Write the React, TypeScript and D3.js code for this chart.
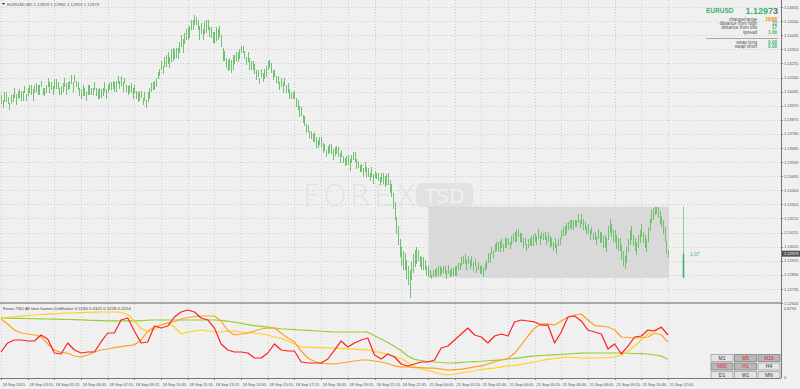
import React from 'react';
import * as d3 from 'd3';

// ---- price bars (EURUSD M5), highs / lows ----
const barHighs = [
1.1404,1.1401,1.1406,1.1406,1.1403,1.1399,1.1404,1.1405,1.1409,1.1405,
1.1407,1.1408,1.1407,1.1407,1.1410,1.1405,1.1409,1.1411,1.1411,1.1408,
1.1411,1.1412,1.1411,1.1411,1.1414,1.1409,1.1409,1.1411,1.1416,1.1413,
1.1413,1.1410,1.1415,1.1415,1.1413,1.1409,1.1410,1.1412,1.1416,1.1412,
1.1413,1.1414,1.1418,1.1413,1.1418,1.1414,1.1413,1.1409,1.1408,1.1411,
1.1409,1.1406,1.1411,1.1411,1.1409,1.1409,1.1413,1.1409,1.1408,1.1409,
1.1408,1.1409,1.1413,1.1408,1.1411,1.1412,1.1413,1.1414,1.1413,1.1414,
1.1417,1.1414,1.1417,1.1413,1.1416,1.1411,1.1410,1.1411,1.1412,1.1409,
1.1411,1.1407,1.1406,1.1407,1.1407,1.1402,1.1406,1.1401,1.1406,1.1409,
1.1412,1.1413,1.1414,1.1416,1.1420,1.1422,1.1427,1.1424,1.1430,1.1431,
1.1433,1.1430,1.1435,1.1436,1.1435,1.1436,1.1436,1.1440,1.1445,1.1442,
1.1446,1.1449,1.1450,1.1451,1.1455,1.1455,1.1458,1.1457,1.1455,1.1451,
1.1453,1.1449,1.1454,1.1455,1.1455,1.1450,1.1450,1.1447,1.1447,1.1450,
1.1449,1.1451,1.1445,1.1436,1.1434,1.1429,1.1428,1.1429,1.1428,1.1431,
1.1431,1.1433,1.1433,1.1435,1.1437,1.1437,1.1434,1.1430,1.1433,1.1429,
1.1427,1.1427,1.1425,1.1421,1.1421,1.1416,1.1422,1.1419,1.1422,1.1424,
1.1427,1.1428,1.1426,1.1421,1.1421,1.1417,1.1417,1.1413,1.1416,1.1413,
1.1416,1.1411,1.1412,1.1408,1.1406,1.1406,1.1407,1.1402,1.1401,1.1397,
1.1396,1.1391,1.1390,1.1385,1.1384,1.1380,1.1380,1.1378,1.1379,1.1376,
1.1374,1.1376,1.1376,1.1372,1.1371,1.1367,1.1370,1.1371,1.1371,1.1368,
1.1369,1.1370,1.1369,1.1365,1.1367,1.1363,1.1362,1.1363,1.1364,1.1361,
1.1364,1.1366,1.1366,1.1361,1.1360,1.1357,1.1358,1.1355,1.1359,1.1356,
1.1355,1.1352,1.1356,1.1351,1.1353,1.1352,1.1352,1.1349,1.1352,1.1352,
1.1350,1.1351,1.1352,1.1347,1.1344,1.1338,1.1332,1.1322,1.1316,1.1307,
1.1302,1.1299,1.1298,1.1293,1.1289,1.1286,1.1292,1.1297,1.1300,1.1302,
1.1300,1.1296,1.1295,1.1295,1.1293,1.1289,1.1289,1.1286,1.1283,1.1286,
1.1287,1.1288,1.1289,1.1289,1.1288,1.1289,1.1289,1.1286,1.1290,1.1286,
1.1288,1.1288,1.1289,1.1289,1.1291,1.1291,1.1295,1.1296,1.1297,1.1294,
1.1296,1.1293,1.1296,1.1292,1.1294,1.1289,1.1292,1.1289,1.1290,1.1288,
1.1291,1.1293,1.1298,1.1298,1.1302,1.1299,1.1304,1.1305,1.1305,1.1306,
1.1307,1.1304,1.1308,1.1308,1.1308,1.1305,1.1309,1.1311,1.1312,1.1313,
1.1314,1.1311,1.1311,1.1308,1.1308,1.1304,1.1307,1.1308,1.1309,1.1310,
1.1311,1.1309,1.1314,1.1310,1.1312,1.1311,1.1312,1.1309,1.1312,1.1309,
1.1308,1.1305,1.1308,1.1304,1.1307,1.1308,1.1313,1.1315,1.1316,1.1318,
1.1319,1.1320,1.1320,1.1320,1.1320,1.1320,1.1324,1.1320,1.1324,1.1321,
1.1319,1.1316,1.1317,1.1313,1.1315,1.1311,1.1312,1.1309,1.1314,1.1312,
1.1312,1.1309,1.1310,1.1308,1.1316,1.1321,1.1317,1.1313,1.1313,1.1310,
1.1308,1.1308,1.1303,1.1299,1.1296,1.1302,1.1307,1.1313,1.1316,1.1310,
1.1308,1.1305,1.1310,1.1313,1.1317,1.1312,1.1310,1.1307,1.1315,1.1321,
1.1327,1.1328,1.1329,1.1329,1.1329,1.1326,1.1323,1.1320,1.1315,1.1306,
1.1300
];
const barLows = [
1.1399,1.1396,1.1400,1.1400,1.1399,1.1395,1.1399,1.1400,1.1403,1.1398,
1.1402,1.1403,1.1401,1.1401,1.1406,1.1401,1.1404,1.1406,1.1405,1.1401,
1.1406,1.1407,1.1405,1.1405,1.1410,1.1405,1.1404,1.1406,1.1410,1.1406,
1.1408,1.1405,1.1409,1.1409,1.1409,1.1405,1.1405,1.1407,1.1410,1.1405,
1.1408,1.1409,1.1412,1.1407,1.1414,1.1410,1.1408,1.1404,1.1402,1.1404,
1.1404,1.1401,1.1405,1.1405,1.1405,1.1405,1.1408,1.1404,1.1402,1.1402,
1.1403,1.1404,1.1407,1.1402,1.1407,1.1408,1.1408,1.1409,1.1407,1.1407,
1.1412,1.1409,1.1411,1.1407,1.1412,1.1407,1.1405,1.1406,1.1406,1.1402,
1.1406,1.1402,1.1400,1.1401,1.1403,1.1398,1.1401,1.1396,1.1400,1.1402,
1.1407,1.1408,1.1408,1.1410,1.1416,1.1418,1.1422,1.1419,1.1424,1.1424,
1.1426,1.1423,1.1427,1.1428,1.1429,1.1430,1.1429,1.1433,1.1437,1.1433,
1.1439,1.1442,1.1442,1.1443,1.1449,1.1449,1.1452,1.1452,1.1449,1.1442,
1.1446,1.1442,1.1446,1.1447,1.1449,1.1444,1.1443,1.1440,1.1439,1.1441,
1.1442,1.1444,1.1437,1.1428,1.1428,1.1423,1.1421,1.1422,1.1420,1.1422,
1.1426,1.1428,1.1427,1.1429,1.1433,1.1433,1.1429,1.1425,1.1427,1.1422,
1.1422,1.1422,1.1419,1.1415,1.1417,1.1412,1.1417,1.1414,1.1416,1.1417,
1.1422,1.1423,1.1420,1.1415,1.1417,1.1413,1.1412,1.1408,1.1410,1.1406,
1.1411,1.1406,1.1406,1.1402,1.1402,1.1402,1.1402,1.1397,1.1395,1.1390,
1.1391,1.1386,1.1384,1.1379,1.1380,1.1376,1.1375,1.1373,1.1373,1.1369,
1.1369,1.1371,1.1370,1.1366,1.1367,1.1363,1.1365,1.1366,1.1365,1.1361,
1.1364,1.1365,1.1363,1.1359,1.1363,1.1359,1.1357,1.1358,1.1358,1.1354,
1.1359,1.1361,1.1360,1.1355,1.1356,1.1353,1.1353,1.1350,1.1353,1.1349,
1.1350,1.1347,1.1350,1.1345,1.1349,1.1348,1.1347,1.1344,1.1346,1.1345,
1.1343,1.1344,1.1344,1.1339,1.1336,1.1328,1.1321,1.1311,1.1304,1.1296,
1.1290,1.1287,1.1287,1.1281,1.1277,1.1268,1.1280,1.1285,1.1289,1.1291,
1.1293,1.1289,1.1287,1.1287,1.1287,1.1283,1.1282,1.1282,1.1281,1.1282,
1.1282,1.1283,1.1283,1.1283,1.1284,1.1285,1.1284,1.1281,1.1284,1.1282,
1.1283,1.1283,1.1283,1.1283,1.1287,1.1287,1.1290,1.1291,1.1291,1.1287,
1.1291,1.1288,1.1290,1.1286,1.1290,1.1285,1.1287,1.1284,1.1284,1.1282,
1.1286,1.1288,1.1292,1.1292,1.1298,1.1295,1.1299,1.1300,1.1299,1.1299,
1.1302,1.1299,1.1302,1.1302,1.1304,1.1301,1.1304,1.1306,1.1306,1.1306,
1.1309,1.1306,1.1305,1.1302,1.1304,1.1300,1.1302,1.1303,1.1303,1.1303,
1.1306,1.1304,1.1308,1.1304,1.1308,1.1307,1.1307,1.1304,1.1306,1.1302,
1.1303,1.1300,1.1302,1.1298,1.1303,1.1304,1.1308,1.1310,1.1310,1.1311,
1.1314,1.1315,1.1314,1.1314,1.1316,1.1316,1.1319,1.1315,1.1318,1.1314,
1.1314,1.1311,1.1311,1.1307,1.1311,1.1307,1.1307,1.1304,1.1308,1.1305,
1.1305,1.1302,1.1302,1.1299,1.1307,1.1312,1.1309,1.1306,1.1305,1.1301,
1.1300,1.1300,1.1294,1.1290,1.1288,1.1292,1.1299,1.1304,1.1307,1.1303,
1.1300,1.1297,1.1302,1.1305,1.1309,1.1305,1.1302,1.1299,1.1306,1.1313,
1.1319,1.1321,1.1324,1.1325,1.1322,1.1318,1.1316,1.1311,1.1306,1.1298,
1.1295
];
const lastClose = 1.12973;
const rangeStartBar = 256; // 21 Sep 00:00

const timeLabels = [
  '18 Sep 2015','18 Sep 03:55','18 Sep 05:15','18 Sep 06:35','18 Sep 07:55','18 Sep 09:15',
  '18 Sep 10:35','18 Sep 11:55','18 Sep 13:15','18 Sep 14:35','18 Sep 15:55','18 Sep 17:15',
  '18 Sep 18:35','18 Sep 19:55','18 Sep 21:15','18 Sep 22:35','21 Sep 00:00','21 Sep 01:20',
  '21 Sep 02:40','21 Sep 04:00','21 Sep 05:20','21 Sep 06:40','21 Sep 08:00','21 Sep 09:20',
  '21 Sep 10:40','21 Sep 12:00'
];
const priceTicks = [
  1.14635,1.14540,1.14445,1.14350,1.14255,1.14160,1.14065,1.13970,1.13875,1.13780,1.13685,
  1.13590,1.13495,1.13400,1.13305,1.13210,1.13115,1.13020,1.12925,1.12830,1.12735,1.12640
];

// ---- DeMarker lines, one value every 4 bars ----
const demRed = [
0.313,0.422,0.458,0.458,0.446,0.446,0.518,0.470,0.301,0.289,
0.422,0.337,0.301,0.313,0.313,0.434,0.542,0.542,0.699,0.723,
0.566,0.422,0.434,0.626,0.602,0.626,0.735,0.795,0.819,0.795,
0.723,0.699,0.602,0.410,0.337,0.313,0.313,0.301,0.241,0.241,
0.301,0.410,0.337,0.325,0.325,0.193,0.181,0.181,0.181,0.229,
0.337,0.446,0.373,0.422,0.458,0.482,0.277,0.229,0.289,0.253,
0.169,0.145,0.169,0.193,0.193,0.217,0.361,0.385,0.458,0.530,
0.602,0.518,0.494,0.422,0.506,0.530,0.506,0.675,0.699,0.687,
0.675,0.638,0.638,0.422,0.554,0.735,0.747,0.687,0.578,0.554,
0.530,0.349,0.410,0.289,0.385,0.494,0.506,0.578,0.566,0.614,
0.5180];
const demOrange = [
0.711,0.651,0.578,0.542,0.530,0.518,0.499,0.410,0.337,0.308,
0.298,0.265,0.253,0.277,0.313,0.337,0.349,0.367,0.379,0.389,
0.398,0.458,0.566,0.614,0.638,0.663,0.681,0.711,0.729,0.738,
0.747,0.747,0.747,0.687,0.572,0.518,0.530,0.542,0.566,0.590,
0.602,0.602,0.542,0.482,0.434,0.325,0.241,0.199,0.177,0.172,
0.169,0.181,0.193,0.205,0.217,0.217,0.205,0.193,0.175,0.145,
0.133,0.133,0.126,0.126,0.120,0.120,0.108,0.096,0.102,0.108,
0.120,0.133,0.145,0.169,0.193,0.217,0.235,0.301,0.398,0.506,
0.602,0.651,0.651,0.638,0.687,0.735,0.759,0.771,0.699,0.632,
0.626,0.614,0.578,0.494,0.488,0.482,0.488,0.494,0.542,0.518,
0.4325];
const demYellow = [
0.723,0.730,0.738,0.746,0.753,0.759,0.765,0.769,0.773,0.778,
0.783,0.785,0.788,0.790,0.793,0.795,0.795,0.795,0.791,0.765,
0.687,0.602,0.554,0.590,0.638,0.663,0.614,0.530,0.554,0.566,
0.578,0.566,0.554,0.554,0.566,0.566,0.554,0.548,0.542,0.530,
0.518,0.494,0.476,0.446,0.410,0.373,0.371,0.367,0.366,0.364,
0.361,0.357,0.352,0.347,0.342,0.337,0.319,0.306,0.286,0.259,
0.235,0.187,0.139,0.108,0.088,0.069,0.048,0.036,0.048,0.060,
0.072,0.084,0.102,0.114,0.120,0.133,0.145,0.153,0.165,0.181,
0.193,0.211,0.225,0.235,0.245,0.253,0.247,0.241,0.241,0.241,
0.241,0.247,0.253,0.277,0.319,0.385,0.458,0.530,0.584,0.602,
0.5228];
const demGreen = [
0.723,0.722,0.719,0.718,0.717,0.714,0.713,0.711,0.710,0.707,
0.705,0.703,0.700,0.696,0.694,0.691,0.689,0.687,0.687,0.687,
0.687,0.691,0.696,0.699,0.699,0.699,0.699,0.699,0.699,0.699,
0.699,0.699,0.699,0.694,0.684,0.672,0.657,0.642,0.632,0.623,
0.614,0.602,0.593,0.587,0.582,0.578,0.573,0.569,0.563,0.558,
0.554,0.554,0.554,0.554,0.554,0.552,0.508,0.470,0.428,0.379,
0.328,0.265,0.224,0.211,0.199,0.193,0.187,0.181,0.183,0.188,
0.193,0.198,0.202,0.208,0.213,0.218,0.229,0.237,0.246,0.257,
0.267,0.271,0.276,0.281,0.284,0.289,0.295,0.300,0.301,0.301,
0.301,0.301,0.301,0.301,0.298,0.295,0.293,0.289,0.277,0.263,
0.2254];
const demStep = 4;
const demMax = 0.8794;

const panelRows = [
  { label: 'change/range', value: '16/68', color: '#f08a00' },
  { label: 'distance from high', value: '32', color: '#3cb371' },
  { label: 'distance from low', value: '17', color: '#3cb371' },
  { label: 'spread', value: '1.60', color: '#3cb371' },
];
const swapRows = [
  { label: 'swap long', value: '0.00' },
  { label: 'swap short', value: '0.00' },
];
const tfButtons = [
  ['M1', 'M5', 'M15'],
  ['M30', 'H1', 'H4'],
  ['D1', 'W1', 'MN'],
];
const tfActive = ['M5', 'M15', 'M30', 'H1'];

const FONT = 'Liberation Sans, Arial, sans-serif';

export default function App() {
  const W = 800, H = 389;
  const axisX = 781;
  const mainTop = 0, mainBottom = 302;
  const subTop = 304, subBottom = 378;
  const n = barHighs.length;
  const x = d3.scaleLinear().domain([0, n - 1]).range([1, 668]);
  const y = d3.scaleLinear().domain([1.12640, 1.14635]).range([303.1, 7]);
  const ys = d3.scaleLinear().domain([0, demMax]).range([subBottom, subTop + 1]);

  const barPath = barHighs
    .map((h, i) => {
      const xx = Math.round(x(i)) + 0.5;
      return `M${xx},${y(h).toFixed(1)}V${(y(barLows[i]) + 1).toFixed(1)}`;
    })
    .join('');

  const boxHigh = d3.max(barHighs.slice(rangeStartBar)) as number;
  const boxLow = d3.min(barLows.slice(rangeStartBar)) as number;

  const line = d3
    .line<number>()
    .x((_, j) => x(j * demStep))
    .y((v) => ys(v));

  const vGrid = timeLabels.map((_, k) => Math.round(x(k * 16)) + 0.5);

  return (
    <svg
      width={W}
      height={H}
      style={{ position: 'absolute', left: 0, top: 0, display: 'block' }}
      fontFamily={FONT}
    >
      <rect x={0} y={0} width={W} height={H} fill="#f0f0f0" />
      <defs>
        <clipPath id="mainClip">
          <rect x={0} y={mainTop} width={axisX} height={mainBottom - mainTop} />
        </clipPath>
        <clipPath id="subClip">
          <rect x={0} y={subTop} width={axisX} height={subBottom - subTop} />
        </clipPath>
      </defs>

      {/* grid main */}
      <g stroke="#cdcdcd" strokeWidth={1} strokeDasharray="1,2" shapeRendering="crispEdges">
        {vGrid.map((gx, k) => (
          <line key={'v' + k} x1={gx} x2={gx} y1={mainTop} y2={mainBottom} />
        ))}
        {priceTicks.map((p, k) => (
          <line key={'h' + k} x1={0} x2={axisX} y1={Math.round(y(p)) + 0.5} y2={Math.round(y(p)) + 0.5} />
        ))}
        {vGrid.map((gx, k) => (
          <line key={'vs' + k} x1={gx} x2={gx} y1={subTop} y2={subBottom} />
        ))}
      </g>

      {/* watermark */}
      <g>
        <text x={303} y={206} fontSize={30} fontWeight={200} fontFamily="DejaVu Sans, sans-serif" letterSpacing={3} fill="#e2e2e2">
          FOREX
        </text>
        <rect x={416} y={183} width={57} height={24} rx={6} fill="#e2e2e2" />
        <text x={444.5} y={203} fontSize={20} textAnchor="middle" fill="#f0f0f0" fontFamily="DejaVu Sans, sans-serif">
          TSD
        </text>
      </g>

      {/* today range box */}
      <rect
        x={x(rangeStartBar) + 1}
        y={y(boxHigh)}
        width={x(n - 1) + 1 - (x(rangeStartBar) + 1)}
        height={y(boxLow) - y(boxHigh)}
        fill="#d9d9d9"
      />

      {/* bars */}
      <g clipPath="url(#mainClip)">
        <path d={barPath} stroke="#70c270" strokeWidth={1} fill="none" shapeRendering="crispEdges" />
      </g>

      {/* range line + label */}
      <line x1={683.5} x2={683.5} y1={y(boxHigh)} y2={y(lastClose)} stroke="#8fd08f" strokeWidth={1} />
      <line x1={683.5} x2={683.5} y1={y(lastClose)} y2={y(boxLow)} stroke="#3cb371" strokeWidth={1.6} />
      <text x={690} y={y(lastClose) + 2} fontSize={5} fill="#3cb371">1:07</text>

      {/* header */}
      <path d="M2,3 L5,3 L3.5,5 Z" fill="#333" />
      <text x={7} y={5.5} fontSize={4.3} fill="#555">EURUSD,M5  1.12959 1.12982 1.12953 1.12973</text>

      {/* info panel */}
      <text x={706} y={13} fontSize={6.5} fontWeight="bold" fill="#3cb371">EURUSD</text>
      <text x={778} y={14} fontSize={9} fontWeight="bold" textAnchor="end" fill="#3cb371">
        1.1297<tspan fill="#5a7a5a">3</tspan>
      </text>
      {panelRows.map((r, k) => (
        <g key={r.label} fontSize={4.6}>
          <text x={757} y={20.5 + k * 4.4} textAnchor="end" fill="#555">{r.label}</text>
          <text x={777} y={20.5 + k * 4.4} textAnchor="end" fill={r.color} fontWeight="bold">{r.value}</text>
        </g>
      ))}
      <line x1={706} x2={778} y1={38.5} y2={38.5} stroke="#888" strokeWidth={0.7} />
      {swapRows.map((r, k) => (
        <g key={r.label} fontSize={4.6}>
          <text x={757} y={43.5 + k * 4.4} textAnchor="end" fill="#555">{r.label}</text>
          <text x={777} y={43.5 + k * 4.4} textAnchor="end" fill="#3cb371" fontWeight="bold">{r.value}</text>
        </g>
      ))}

      {/* separator between windows */}
      <rect x={0} y={mainBottom} width={axisX} height={2} fill="#a8a8a8" />

      {/* indicator */}
      <g clipPath="url(#subClip)" fill="none" strokeWidth={1.2} strokeLinejoin="round">
        <path d={line(demGreen) || ''} stroke="#9acd32" />
        <path d={line(demYellow) || ''} stroke="#ffd21f" />
        <path d={line(demOrange) || ''} stroke="#ffa020" />
        <path d={line(demRed) || ''} stroke="#ff2020" />
      </g>
      <text x={3} y={309.5} fontSize={4.3} fill="#444">
        Forex-TSD All time frames DeMarker 0.5180 0.4325 0.5228 0.2254
      </text>

      {/* timeframe buttons */}
      {tfButtons.map((row, r) =>
        row.map((lab, c) => {
          const bx = 711 + c * 23.5;
          const by = 354.5 + r * 8.5;
          const act = tfActive.includes(lab);
          return (
            <g key={lab}>
              <rect
                x={bx}
                y={by}
                width={22}
                height={7}
                fill={act ? '#b8b8b8' : '#e4e4e4'}
                stroke={act ? '#777' : '#999'}
                strokeWidth={0.7}
              />
              <text x={bx + 11} y={by + 5.3} fontSize={5} textAnchor="middle" fill={act ? '#e8202a' : '#333'}>
                {lab}
              </text>
            </g>
          );
        })
      )}

      {/* axes */}
      <line x1={axisX + 0.5} x2={axisX + 0.5} y1={0} y2={subBottom} stroke="#777" strokeWidth={1} />
      <line x1={0} x2={axisX} y1={subBottom + 0.5} y2={subBottom + 0.5} stroke="#777" strokeWidth={1} />
      {priceTicks.map((p, k) => (
        <g key={'pt' + k}>
          <line x1={axisX} x2={axisX + 2} y1={Math.round(y(p)) + 0.5} y2={Math.round(y(p)) + 0.5} stroke="#777" />
          <text x={784} y={y(p) + 1.5} fontSize={4} fill="#555">{p.toFixed(5)}</text>
        </g>
      ))}
      <rect x={axisX + 1} y={y(lastClose) - 3} width={18} height={6} fill="#555" />
      <text x={784} y={y(lastClose) + 1.5} fontSize={4} fill="#fff">{lastClose.toFixed(5)}</text>
      <text x={784} y={310} fontSize={4} fill="#555">{demMax.toFixed(4)}</text>
      <text x={784} y={379} fontSize={4} fill="#555">0</text>

      {timeLabels.map((t, k) => (
        <g key={t}>
          <line x1={vGrid[k]} x2={vGrid[k]} y1={subBottom} y2={subBottom + 2} stroke="#777" />
          <text x={vGrid[k] + 1} y={386} fontSize={4} fill="#555">{t}</text>
        </g>
      ))}
    </svg>
  );
}
